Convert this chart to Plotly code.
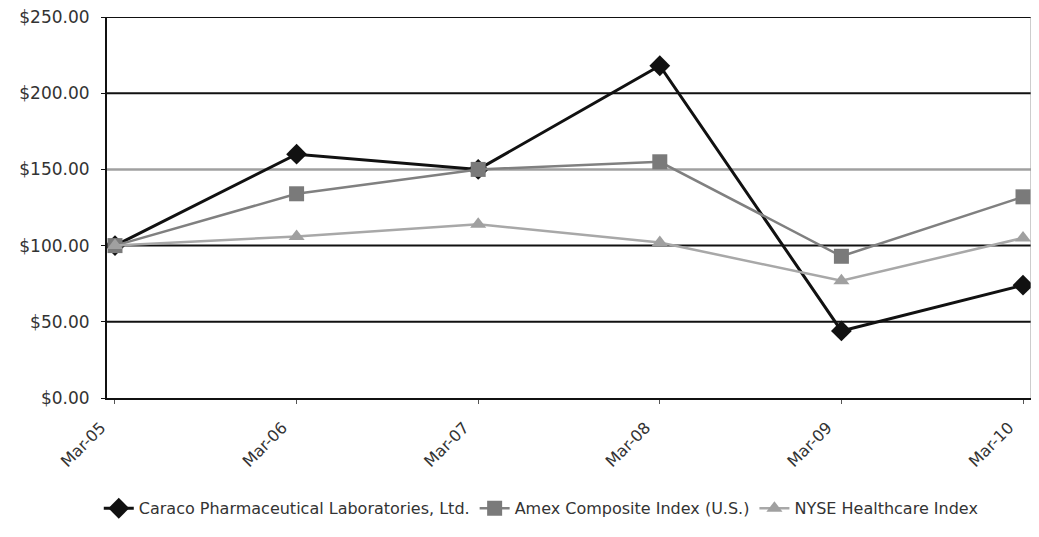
import plotly.graph_objects as go

categories = ["Mar-05", "Mar-06", "Mar-07", "Mar-08", "Mar-09", "Mar-10"]
caraco = [100, 160, 150, 218, 44, 74]
amex = [100, 134, 150, 155, 93, 132]
nyse = [100, 106, 114, 102, 77, 105]
y_ticks = [0, 50, 100, 150, 200, 250]
y_labels = ["$0.00", "$50.00", "$100.00", "$150.00", "$200.00", "$250.00"]
grid_colors = ["#111111", "#111111", "#111111", "#a0a0a0", "#111111", "#111111"]

FONT = "Liberation Sans, Arial, sans-serif"
WIDE = "DejaVu Sans, Verdana, sans-serif"

x_idx = list(range(len(categories)))

fig = go.Figure()
fig.add_trace(go.Scatter(
    x=x_idx, y=caraco, mode="lines+markers",
    name="Caraco Pharmaceutical Laboratories, Ltd.",
    line=dict(color="#111111", width=3),
    marker=dict(symbol="diamond", size=16, color="#111111"),
))
fig.add_trace(go.Scatter(
    x=x_idx, y=amex, mode="lines+markers",
    name="Amex Composite Index (U.S.)",
    line=dict(color="#808080", width=2.5),
    marker=dict(symbol="square", size=15, color="#7a7a7a"),
))
fig.add_trace(go.Scatter(
    x=x_idx, y=nyse, mode="lines+markers",
    name="NYSE Healthcare Index",
    line=dict(color="#a8a8a8", width=2.5),
    marker=dict(symbol="triangle-up", size=14, color="#a0a0a0"),
))

# horizontal gridlines (the $150 one is lighter in the reference)
for v, c in zip(y_ticks[1:], grid_colors[1:]):
    fig.add_shape(type="line", xref="paper", x0=0, x1=1, yref="y", y0=v, y1=v,
                  line=dict(color=c, width=2.5 if c != "#111111" else 2), layer="below")

# the page body adds an 8px margin, so the figure is drawn 8px smaller
fig.update_layout(
    width=1031, height=529,
    margin=dict(l=99, r=8, t=9, b=139),
    paper_bgcolor="white", plot_bgcolor="white",
    font=dict(family=FONT, size=13, color="#333333"),
    showlegend=True,
    legend=dict(orientation="h", x=0.47, xanchor="center", y=-0.245, yanchor="top",
                font=dict(family=WIDE, size=16, color="#333333"),
                itemwidth=30, tracegroupgap=0),
)
fig.update_xaxes(
    range=[-0.044, 5.044], tickmode="array",
    tickvals=x_idx, ticktext=categories,
    tickangle=-45, showgrid=False, zeroline=False, automargin=False,
    showline=True, linecolor="#111111", linewidth=2,
    ticks="outside", ticklen=4, tickcolor="#555555",
    ticklabelstandoff=8, ticklabelshift=-14, ticklabeloverflow="allow",
    tickfont=dict(family=WIDE, size=16, color="#333333"),
)
fig.update_yaxes(
    range=[0, 250], tickmode="array", tickvals=y_ticks, ticktext=y_labels,
    showgrid=False, zeroline=False, automargin=False,
    showline=True, linecolor="#111111", linewidth=2,
    ticks="outside", ticklen=4, tickcolor="#111111",
    ticklabelstandoff=8, ticklabeloverflow="allow",
    tickfont=dict(family=WIDE, size=17, color="#333333"),
)
# thin right border
fig.add_shape(type="line", xref="paper", yref="paper", x0=1, x1=1, y0=0, y1=1,
              line=dict(color="#9a9a9a", width=1))

fig.write_html("out.html")
